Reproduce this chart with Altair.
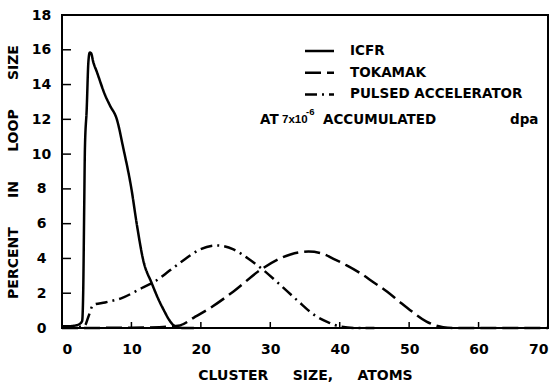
import altair as alt
import pandas as pd

# Loop-size distributions (percent) against cluster size (atoms)
icfr_size = [0, 1, 2, 2.6, 2.9, 3.05, 3.2, 3.3, 3.56, 3.8, 4.0, 4.2, 4.5, 5.0, 6.2,
             6.9, 7.9, 8.8, 10.0, 10.8, 11.7, 12.9, 14.4, 16.3, 17.5, 19]
icfr_pct = [0.1, 0.1, 0.15, 0.25, 0.4, 2.0, 7.0, 10.3, 12.6, 15.3, 15.85, 15.8, 15.3,
            14.75, 13.4, 12.8, 12.0, 10.4, 8.0, 5.9, 3.9, 2.6, 1.23, 0.1, 0.0, 0.0]

tokamak_size = [0, 10, 14, 17.0, 19.0, 21.3, 24.7, 28.8, 32.9, 35.5, 37.5, 39.1,
                41.0, 42.9, 44.8, 46.8, 48.5, 50.1, 52.5, 54.9, 57, 70]
tokamak_pct = [0.0, 0.02, 0.05, 0.15, 0.6, 1.14, 2.1, 3.4, 4.23, 4.4, 4.28, 3.98,
               3.6, 3.17, 2.65, 2.1, 1.55, 1.04, 0.37, 0.05, 0.0, 0.0]

pulsed_size = [0, 2, 3.3, 3.8, 4.5, 6.2, 8.6, 11.5, 13.4, 15.5, 17.5, 19.9, 22.3,
               24.7, 26.8, 28.8, 31.4, 33.8, 36.7, 38.5, 40.1, 42.6, 45]
pulsed_pct = [0.05, 0.05, 0.15, 0.65, 1.33, 1.47, 1.72, 2.3, 2.68, 3.3, 3.9, 4.52,
              4.75, 4.52, 4.0, 3.4, 2.49, 1.62, 0.65, 0.3, 0.08, 0.0, 0.0]

series_names = ["ICFR", "TOKAMAK", "PULSED ACCELERATOR"]
series_dashes = [[1, 0], [16, 6], [12, 5, 2, 5]]

x_tick_values = [0, 10, 20, 30, 40, 50, 60, 70]
y_tick_values = [0, 2, 4, 6, 8, 10, 12, 14, 16, 18]
x_inner_ticks = [10, 20, 30, 40, 50, 60]
y_inner_ticks = [2, 4, 6, 8, 10, 12, 14, 16]

FONT = "DejaVu Sans"
NARROW = "Liberation Sans Narrow, Liberation Sans"
W, H = 486, 313
NB = "\u00a0"

frames = []
for name, xs, ys in zip(series_names,
                        [icfr_size, tokamak_size, pulsed_size],
                        [icfr_pct, tokamak_pct, pulsed_pct]):
    frames.append(pd.DataFrame({"size": xs, "pct": ys, "series": name}))
curves_df = pd.concat(frames, ignore_index=True)

x_scale = alt.Scale(domain=[0, 70], nice=False, zero=False)
y_scale = alt.Scale(domain=[0, 18], nice=False)
dash_scale = alt.Scale(domain=series_names, range=series_dashes)

x_axis = alt.Axis(values=x_tick_values, format="d",
                  title=f"CLUSTER{NB*5}SIZE,{NB*5}ATOMS",
                  labelPadding=14, titlePadding=12)
y_axis = alt.Axis(values=y_tick_values, format="d",
                  title=f"PERCENT{NB*6}IN{NB*6}LOOP{NB*6}SIZE",
                  labelAlign="center", labelPadding=21, titlePadding=11)

curves = alt.Chart(curves_df).mark_line(
    color="black", strokeWidth=2.5, interpolate="monotone"
).encode(
    x=alt.X("size:Q", scale=x_scale, axis=x_axis),
    y=alt.Y("pct:Q", scale=y_scale, axis=y_axis),
    strokeDash=alt.StrokeDash("series:N", scale=dash_scale, legend=None),
)

# Inward tick marks on the bottom and left edges
x_ticks = alt.Chart(pd.DataFrame({"size": x_inner_ticks})).mark_rule(
    color="black", strokeWidth=1.5
).encode(x=alt.X("size:Q", scale=x_scale, axis=x_axis),
         y=alt.value(H), y2=alt.value(H - 6))

y_ticks = alt.Chart(pd.DataFrame({"pct": y_inner_ticks})).mark_rule(
    color="black", strokeWidth=1.5
).encode(y=alt.Y("pct:Q", scale=y_scale, axis=y_axis),
         x=alt.value(0), x2=alt.value(9))


def label(text, x, y, size=13.5, font=FONT):
    return alt.Chart(pd.DataFrame({"t": [text]})).mark_text(
        font=font, fontSize=size, fontWeight="bold", align="left",
        baseline="middle", color="black"
    ).encode(text="t:N", x=alt.value(x), y=alt.value(y))


# Key in the upper right
key_layers = []
for i, (name, dash) in enumerate(zip(series_names, series_dashes)):
    row_y = 36 + i * 21.7
    key_layers.append(
        alt.Chart(pd.DataFrame({"label": [name]}))
        .mark_rule(color="black", strokeWidth=2.5, strokeDash=dash)
        .encode(x=alt.value(243), x2=alt.value(272), y=alt.value(row_y))
    )
    key_layers.append(label(name, 288, row_y))

notes = [
    label("AT", 198, 105),
    label("7x10", 220, 105, 11.5, NARROW),
    label("-6", 244, 97, 9.5, NARROW),
    label("ACCUMULATED", 261, 105),
    label("dpa", 448, 105),
]

chart = alt.layer(
    curves, x_ticks, y_ticks, *key_layers, *notes
).properties(
    width=W, height=H,
    autosize=alt.AutoSizeParams(type="none"),
    padding={"left": 62, "top": 15, "right": 10, "bottom": 59},
).configure_view(
    stroke="black", strokeWidth=2
).configure_axis(
    grid=False, domain=False, ticks=False,
    labelFont=FONT, labelFontSize=14, labelFontWeight="bold", labelColor="black",
    titleFont=FONT, titleFontSize=14, titleFontWeight="bold", titleColor="black",
)

chart.save("out.html", embed_options={"renderer": "svg", "actions": False})
